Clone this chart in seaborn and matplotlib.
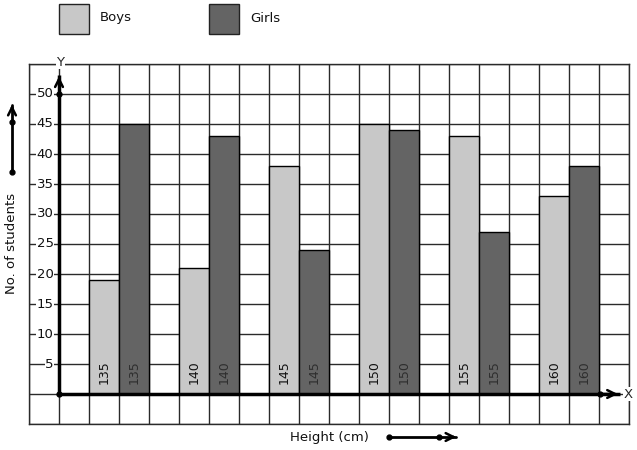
import matplotlib
matplotlib.use("Agg")
import matplotlib.pyplot as plt
import seaborn as sns
import pandas as pd
from matplotlib.patches import Rectangle

heights = [135, 140, 145, 150, 155, 160]
boys = [19, 21, 38, 45, 43, 33]
girls = [45, 43, 24, 44, 27, 38]
series = ["Boys", "Girls"]
colors = {"Boys": "#c8c8c8", "Girls": "#646464"}
y_ticks = [5, 10, 15, 20, 25, 30, 35, 40, 45, 50]

sns.set_theme(style="white")
plt.rcParams["font.family"] = ["DejaVu Sans"]

# group positions on the grid: each group is 3 cells apart, starting at cell 1
pos = [2 + 3 * i for i in range(len(heights))]
df = pd.DataFrame({
    "pos": pos * 2,
    "height": heights * 2,
    "count": boys + girls,
    "gender": ["Boys"] * len(boys) + ["Girls"] * len(girls),
})

W, H = 637, 450
fig = plt.figure(figsize=(W / 100, H / 100), dpi=100)
ax = fig.add_axes([29 / W, (H - 424) / H, 600 / W, 360 / H])

sns.barplot(data=df, x="pos", y="count", hue="gender", native_scale=True,
            palette=colors, width=2 / 3, dodge=True, edgecolor="black",
            linewidth=1, ax=ax, legend=False, saturation=1, zorder=2)

ax.set_xlim(-1, 19)
ax.set_ylim(-5, 55)
ax.set_xticks(range(-1, 20))
ax.set_yticks(range(-5, 56, 5))
ax.set_xticklabels([])
ax.set_yticklabels([])
ax.tick_params(length=0)
ax.grid(True, color="#2a2a2a", lw=1)
ax.set_axisbelow(True)
ax.set_xlabel("")
ax.set_ylabel("")
for s in ax.spines.values():
    s.set_color("#2a2a2a")
    s.set_linewidth(1)

# bar labels
for p, h in zip(pos, heights):
    ax.text(p - 0.5, 3.6, str(h), rotation=90, ha="center", va="center",
            fontsize=9, color="#111111", zorder=5)
    ax.text(p + 0.5, 3.6, str(h), rotation=90, ha="center", va="center",
            fontsize=9, color="#2e2e2e", zorder=5)

# y tick labels with white background
for t in y_ticks:
    ax.text(-0.18, t, str(t), ha="right", va="center", fontsize=9.5,
            color="#111111", zorder=6,
            bbox=dict(facecolor="white", edgecolor="none", pad=0.3))

# axes lines with arrows
ax.plot([0, 18.7], [0, 0], color="black", lw=2.5, zorder=7, solid_capstyle="butt")
ax.plot([0, 0], [0, 53.2], color="black", lw=2.5, zorder=7, solid_capstyle="butt")
ax.annotate("", xy=(18.72, 0), xytext=(18.0, 0),
            arrowprops=dict(arrowstyle="->", lw=1.8, color="black",
                            mutation_scale=14), zorder=7)
ax.annotate("", xy=(0, 53.4), xytext=(0, 51),
            arrowprops=dict(arrowstyle="->", lw=1.8, color="black",
                            mutation_scale=14), zorder=7)
ax.plot([0, 0, 18.03], [0, 50, 0], "o", color="black", ms=3.5, zorder=8,
        clip_on=False)

ax.text(0.05, 55.3, "Y", ha="center", va="center", fontsize=9.5, zorder=8,
        clip_on=False, bbox=dict(facecolor="white", edgecolor="none", pad=0.5))
ax.text(18.97, 0, "X", ha="center", va="center", fontsize=9.5, zorder=8,
        clip_on=False, bbox=dict(facecolor="white", edgecolor="none", pad=0.5))

# axis titles with arrows (figure pixel coordinates)
fig.text(12 / W, 1 - 243 / H, "No. of students", rotation=90, ha="center",
         va="center", fontsize=9.5, color="#111111")
fig.text(329 / W, 1 - 437 / H, "Height (cm)", ha="center", va="center",
         fontsize=9.5, color="#111111")

fig.add_artist(plt.Line2D([12 / W, 12 / W], [1 - 172 / H, 1 - 105 / H],
                          color="black", lw=2))
fig.add_artist(plt.Line2D([12 / W, 12 / W], [1 - 172 / H, 1 - 122 / H],
                          marker="o", ms=3.5, color="black", lw=0))
ax.annotate("", xy=(12, H - 102), xytext=(12, H - 112),
            xycoords="figure pixels", textcoords="figure pixels",
            arrowprops=dict(arrowstyle="->", lw=1.8, color="black",
                            mutation_scale=14))
fig.add_artist(plt.Line2D([389 / W, 456 / W], [1 - 437 / H, 1 - 437 / H],
                          color="black", lw=2))
fig.add_artist(plt.Line2D([389 / W, 439 / W], [1 - 437 / H, 1 - 437 / H],
                          marker="o", ms=3.5, color="black", lw=0))
ax.annotate("", xy=(459, H - 437), xytext=(448, H - 437),
            xycoords="figure pixels", textcoords="figure pixels",
            arrowprops=dict(arrowstyle="->", lw=1.8, color="black",
                            mutation_scale=14))

# legend
for i, name in enumerate(series):
    x0 = 59 + 150 * i
    fig.add_artist(Rectangle((x0 / W, 1 - 34 / H), 30 / W, 30 / H,
                             transform=fig.transFigure, facecolor=colors[name],
                             edgecolor="#222222", lw=1))
    fig.text((x0 + 41) / W, 1 - 18 / H, name, ha="left", va="center",
             fontsize=9.5, color="#111111")

fig.savefig("out.png", dpi=100, facecolor="white")
